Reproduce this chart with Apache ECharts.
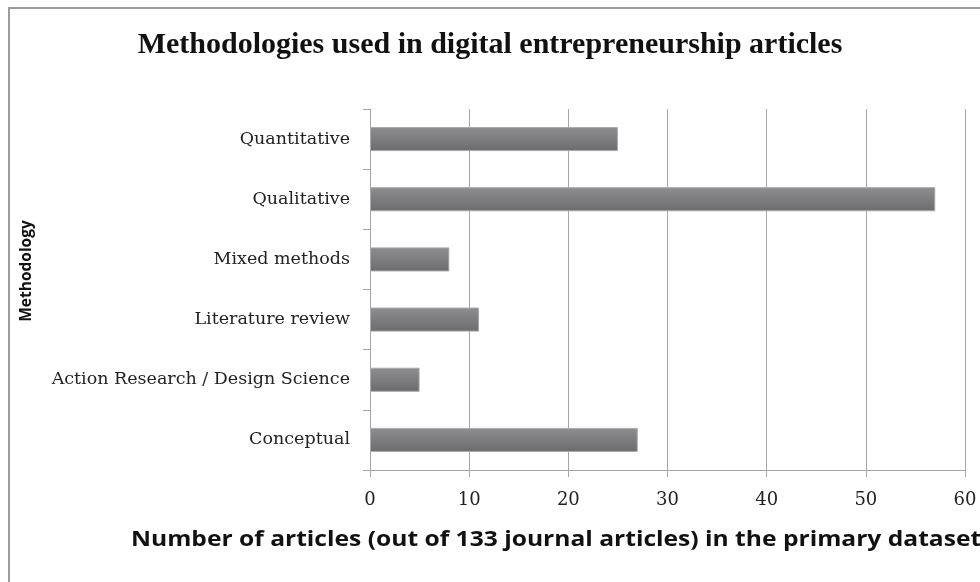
<!DOCTYPE html>
<html>
<head>
<meta charset="utf-8">
<script src="https://cdn.jsdelivr.net/npm/echarts@6/dist/echarts.min.js"></script>
<style>
html,body{margin:0;padding:0;background:#fff;}
#chart{width:980px;height:582px;}
</style>
</head>
<body>
<div id="chart"></div>
<script>
const titleText = 'Methodologies used in digital entrepreneurship articles';
const categories = ['Quantitative', 'Qualitative', 'Mixed methods', 'Literature review', 'Action Research / Design Science', 'Conceptual'];
const values = [25, 57, 8, 11, 5, 27];
const xAxisTitle = 'Number of articles (out of 133 journal articles) in the primary dataset';
const yAxisTitle = 'Methodology';
const xMin = 0, xMax = 60, xInterval = 10;

const chart = echarts.init(document.getElementById('chart'), null, {renderer: 'canvas'});
chart.setOption({
  animation: false,
  backgroundColor: '#ffffff',
  grid: {left: 370, top: 109, width: 595, height: 361},
  xAxis: {
    type: 'value',
    min: xMin, max: xMax, interval: xInterval,
    axisLine: {show: true, lineStyle: {color: '#a6a6a6', width: 1}},
    axisTick: {show: true, length: 7, lineStyle: {color: '#a6a6a6'}},
    splitLine: {show: true, lineStyle: {color: '#a6a6a6', width: 1}},
    axisLabel: {fontFamily: 'DejaVu Serif', fontSize: 18, color: '#222', margin: 21}
  },
  yAxis: {
    type: 'category',
    data: categories,
    inverse: true,
    axisLine: {show: true, lineStyle: {color: '#a6a6a6', width: 1}},
    axisTick: {show: true, length: 7, alignWithLabel: false, lineStyle: {color: '#a6a6a6'}},
    splitLine: {show: false},
    axisLabel: {fontFamily: 'DejaVu Serif', fontSize: 17.5, color: '#222', margin: 20}
  },
  series: [{
    type: 'bar',
    data: values,
    barWidth: '40%',
    itemStyle: {
      color: new echarts.graphic.LinearGradient(0, 0, 0, 1, [
        {offset: 0, color: '#8e8e91'},
        {offset: 0.5, color: '#7d7d80'},
        {offset: 1, color: '#6b6b6e'}
      ]),
      borderColor: '#a9a9ab',
      borderWidth: 1
    }
  }],
  graphic: [
    {type: 'rect', shape: {x: 9, y: 8, width: 1000, height: 620}, style: {fill: 'none', stroke: '#9c9c9c', lineWidth: 2}, silent: true},
    {type: 'text', x: 490, y: 45, style: {text: titleText, fontFamily: 'Liberation Serif', fontWeight: 'bold', fontSize: 30, fill: '#111', align: 'center', verticalAlign: 'middle'}},
    {type: 'text', x: 131, y: 540, scaleX: 1.2, style: {text: xAxisTitle, fontFamily: 'Open Sans', fontWeight: 'bold', fontSize: 20.5, fill: '#111', align: 'left', verticalAlign: 'middle'}},
    {type: 'text', x: 19, y: 271, rotation: Math.PI / 2, style: {text: yAxisTitle, fontFamily: 'Open Sans', fontWeight: 'bold', fontSize: 15.5, fill: '#111', align: 'center', verticalAlign: 'top'}}
  ]
});
</script>
</body>
</html>
